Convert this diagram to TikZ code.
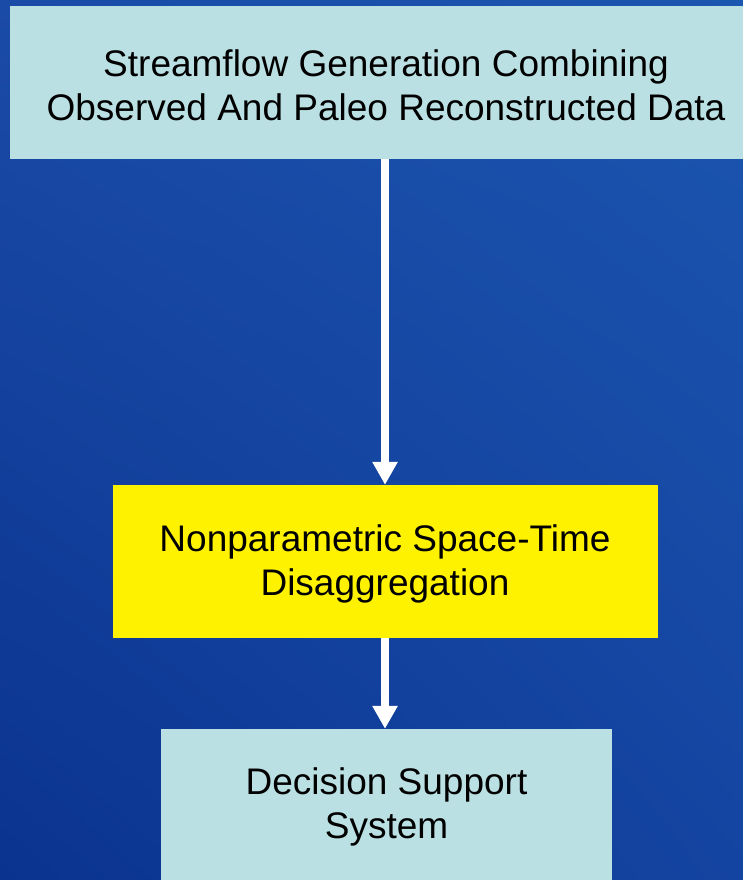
\documentclass[tikz,border=0pt]{standalone}
\usepackage{fontspec}
\setmainfont{Liberation Sans}
\usetikzlibrary{arrows.meta,shadings}
\definecolor{boxcyan}{HTML}{BAE0E3}
\definecolor{bgul}{HTML}{1A4BA7}
\definecolor{bgur}{HTML}{1B56B0}
\definecolor{bgll}{HTML}{0A338F}
\definecolor{bglr}{HTML}{1444A1}
\begin{document}
\begin{tikzpicture}[x=1pt, y=-1pt,
	box/.style = {inner sep=0pt, align=center, text=black, font=\fontsize{37}{44}\selectfont},
	words/.style = {align=center, text=black, font=\fontsize{37}{44}\selectfont},
	flow/.style = {white, line width=8pt, -{Triangle[width=24pt,length=23pt]}}]
	\useasboundingbox (0,0) rectangle (743,880);
	\clip (0,0) rectangle (743,880);
	\shade [upper left = bgul, upper right = bgur, lower left = bgll, lower right = bglr] (0,0) rectangle (743,880);
	\node [box, fill = boxcyan, minimum width = 750pt, minimum height = 153pt] (obs) at (385,82.5) {};
	\node [box, fill = yellow, minimum width = 545pt, minimum height = 153pt] (disagg) at (385,561.5) {};
	\node [box, fill = boxcyan, minimum width = 451pt, minimum height = 151pt] (dss) at (386.5,804.5) {};
	\node [words] (obstext) at (386,85.5) {Streamflow Generation Combining\\Observed And Paleo Reconstructed Data};
	\node [words] (disaggtext) at (385,563.5) {Nonparametric Space-Time\\Disaggregation};
	\node [words] (dsstext) at (386.5,807) {Decision Support\\System};
	\draw [flow] (obs.south) -- (disagg.north);
	\draw [flow] (disagg.south) -- (disagg.south |- dss.north);
\end{tikzpicture}
\end{document}
